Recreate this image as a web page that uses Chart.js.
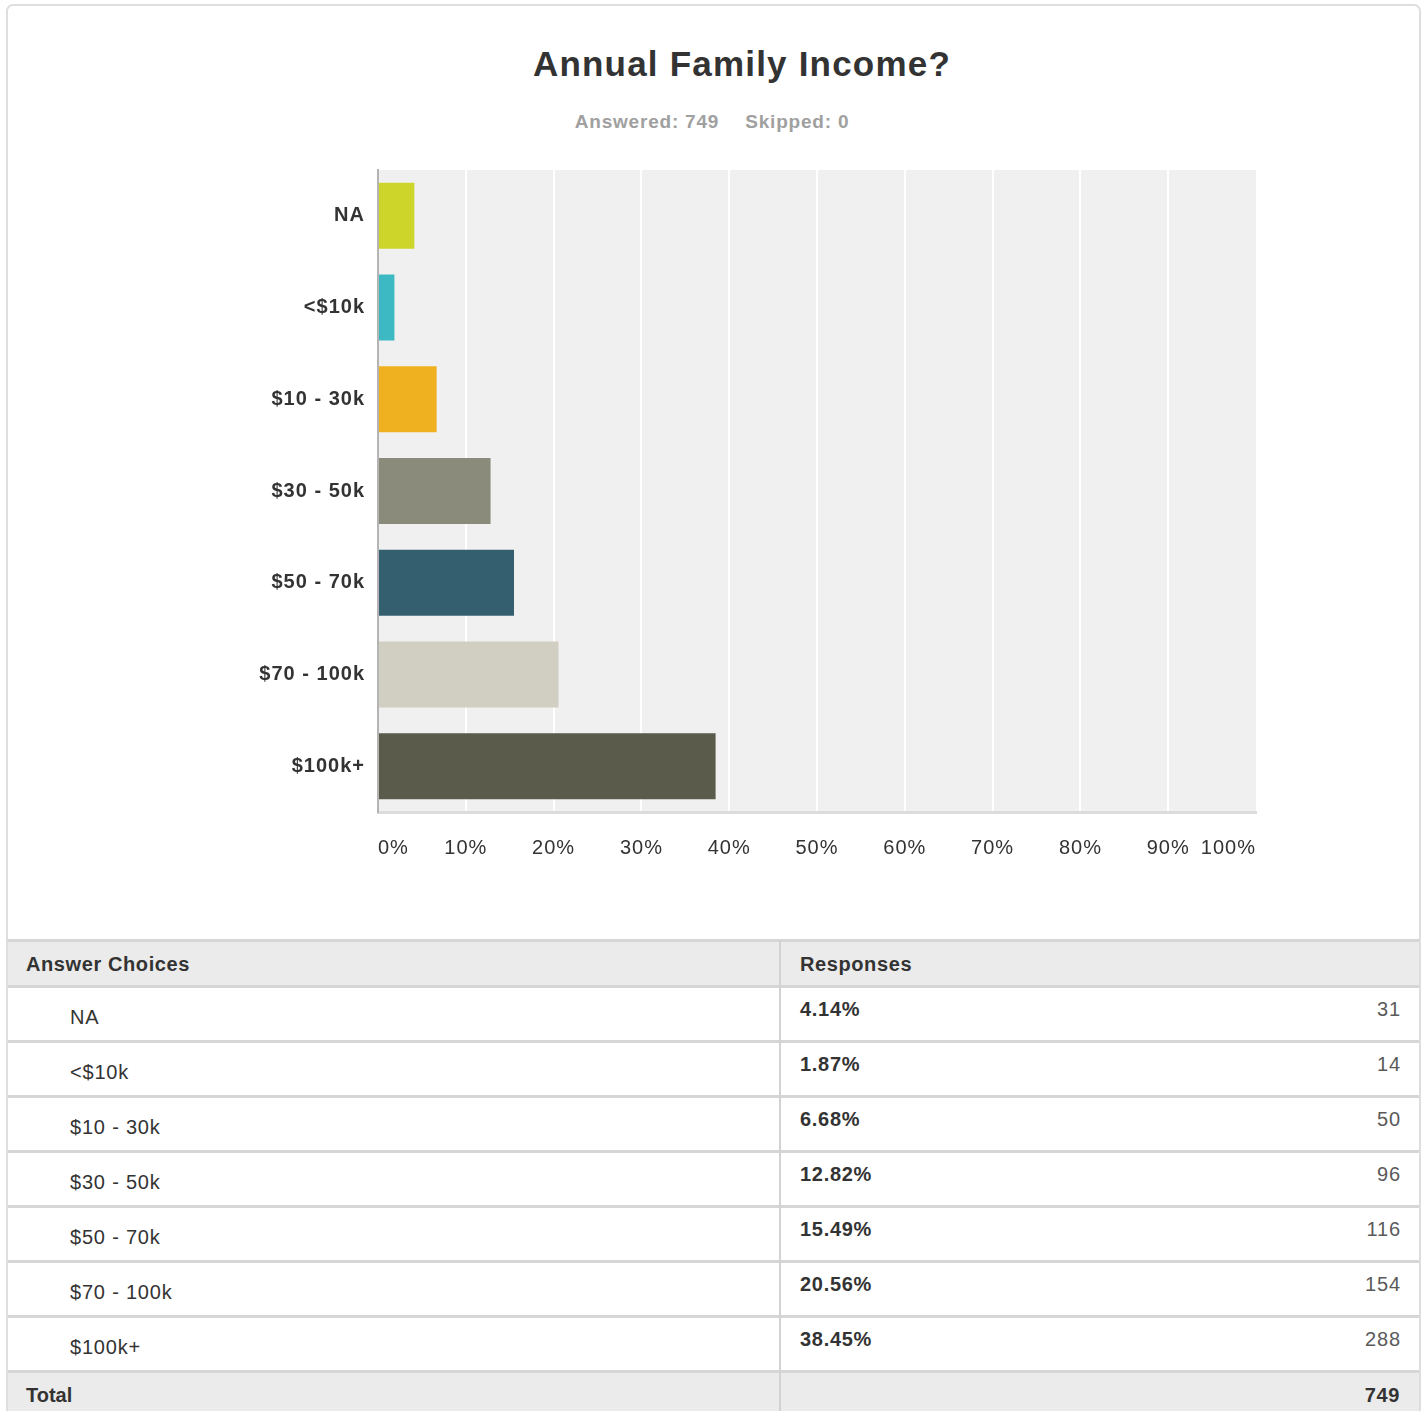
<!DOCTYPE html>
<html>
<head>
<meta charset="utf-8">
<script src="https://cdn.jsdelivr.net/npm/chart.js@4/dist/chart.umd.min.js"></script>
<style>
  html, body { margin: 0; padding: 0; background: #fff; }
  body { width: 1422px; height: 1411px; position: relative; overflow: hidden;
         font-family: "Liberation Sans", Arial, Helvetica, sans-serif; color: #333; }
  #frame { position: absolute; left: 6px; top: 4px; width: 1415px; height: 1440px;
           border: 2px solid #dedede; border-radius: 7px; box-sizing: border-box; }
  #title { position: absolute; left: 0; width: 1484px; top: 44px; text-align: center;
           font-size: 35px; font-weight: bold; color: #333; letter-spacing: 1.2px; }
  #sub { position: absolute; left: 0; width: 1424px; top: 111px; text-align: center;
         font-size: 19px; font-weight: bold; color: #a0a0a0; letter-spacing: 0.8px; }
  #sub .gap { display: inline-block; width: 26px; }
  #chartWrap { position: absolute; left: 0; top: 145px; width: 1422px; height: 755px; }
  .abs { position: absolute; }
  .hline { position: absolute; left: 6px; width: 1414px; height: 3px; background: #d6d6d6; }
  .txt { position: absolute; white-space: nowrap; line-height: 1; }
</style>
</head>
<body>
<div id="frame"></div>
<div id="title">Annual Family Income?</div>
<div id="sub">Answered: 749<span class="gap"></span>Skipped: 0</div>
<div id="chartWrap"><canvas id="c" width="1422" height="755"></canvas></div>
<div id="table"></div>
<script>
const categories = ["NA", "<$10k", "$10 - 30k", "$30 - 50k", "$50 - 70k", "$70 - 100k", "$100k+"];
const percents = [4.14, 1.87, 6.68, 12.82, 15.49, 20.56, 38.45];
const counts = [31, 14, 50, 96, 116, 154, 288];
const barColors = ["#cdd52a", "#3db9c3", "#f0b120", "#8a8b7a", "#345f6e", "#d0cfc2", "#5a5b4b"];
const totalCount = 749;
const xTicks = [0, 10, 20, 30, 40, 50, 60, 70, 80, 90, 100];

const FONT = '"Liberation Sans", Arial, Helvetica, sans-serif';

const bgPlugin = {
  id: 'plotBg',
  beforeDraw(chart) {
    const a = chart.chartArea, ctx = chart.ctx;
    ctx.letterSpacing = '1px';
    ctx.save();
    ctx.fillStyle = '#f0f0f0';
    ctx.fillRect(a.left, a.top, a.right - a.left, a.bottom - a.top);
    ctx.restore();
  }
};

new Chart(document.getElementById('c'), {
  type: 'bar',
  data: {
    labels: categories,
    datasets: [{
      data: percents,
      backgroundColor: barColors,
      borderWidth: 0,
      categoryPercentage: 0.72,
      barPercentage: 1.0
    }]
  },
  options: {
    indexAxis: 'y',
    responsive: false,
    devicePixelRatio: 1,
    animation: false,
    layout: { padding: { top: 14, right: 166, left: 0, bottom: 0 } },
    plugins: { legend: { display: false }, tooltip: { enabled: false }, title: { display: false } },
    scales: {
      x: {
        type: 'linear',
        position: 'bottom',
        min: 0, max: 100,
        afterBuildTicks(scale) { scale.ticks = xTicks.map(v => ({ value: v })); },
        afterFit(scale) { scale.height = 88; },
        grid: {
          color: (ctx) => (ctx.index === 0 || ctx.index === xTicks.length - 1) ? 'rgba(0,0,0,0)' : '#ffffff',
          lineWidth: 2,
          drawTicks: false
        },
        border: { display: true, color: '#dcdcdc', width: 3 },
        ticks: {
          callback: (v) => v + '%',
          font: { family: FONT, size: 20 },
          color: '#333',
          padding: 24,
          align: 'inner',
          maxRotation: 0,
          autoSkip: false
        }
      },
      y: {
        type: 'category',
        afterFit(scale) { scale.width = 378; },
        grid: { display: false, drawTicks: false },
        border: { display: true, color: '#b4b4b4', width: 2 },
        ticks: {
          font: { family: FONT, size: 20, weight: 'bold' },
          color: '#333',
          padding: 13
        }
      }
    }
  },
  plugins: [bgPlugin]
});

// Table
const t = document.getElementById('table');
function add(html) { t.insertAdjacentHTML('beforeend', html); }
const headTop = 940, headH = 46, rowH = 55;
const firstRow = headTop + headH;
const totalTop = firstRow + rowH * categories.length;
add(`<div class="abs" style="left:6px;top:${headTop}px;width:1414px;height:${headH}px;background:#ebebeb"></div>`);
add(`<div class="abs" style="left:6px;top:${totalTop}px;width:1414px;height:${1411 - totalTop}px;background:#ebebeb"></div>`);
add(`<div class="hline" style="top:${headTop - 1}px"></div>`);
for (let i = 0; i <= categories.length; i++) {
  add(`<div class="hline" style="top:${firstRow + rowH * i - 1}px"></div>`);
}
add(`<div class="abs" style="left:779px;top:${headTop}px;width:2px;height:${1411 - headTop}px;background:#d2d2d2"></div>`);
add(`<div class="abs" style="left:1419px;top:${headTop}px;width:2px;height:${1411 - headTop}px;background:#dedede"></div>`);
add(`<div class="abs" style="left:6px;top:${headTop}px;width:2px;height:${1411 - headTop}px;background:#dedede"></div>`);
add(`<div class="txt" style="left:26px;top:${headTop + 14}px;font-size:20px;font-weight:bold;color:#333;letter-spacing:0.6px">Answer Choices</div>`);
add(`<div class="txt" style="left:800px;top:${headTop + 14}px;font-size:20px;font-weight:bold;color:#333;letter-spacing:0.6px">Responses</div>`);
categories.forEach((c, i) => {
  const top = firstRow + rowH * i;
  const esc = c.replace(/</g, '&lt;');
  add(`<div class="txt" style="left:70px;top:${top + 21}px;font-size:20px;color:#333;letter-spacing:0.8px">${esc}</div>`);
  add(`<div class="txt" style="left:800px;top:${top + 13}px;font-size:20px;font-weight:bold;color:#333;letter-spacing:0.7px">${percents[i].toFixed(2)}%</div>`);
  add(`<div class="txt" style="right:${1422 - 1401}px;top:${top + 13}px;font-size:20px;color:#5a5a5a;letter-spacing:0.9px;text-align:right">${counts[i]}</div>`);
});
add(`<div class="txt" style="left:26px;top:${totalTop + 14}px;font-size:20px;font-weight:bold;color:#333">Total</div>`);
add(`<div class="txt" style="right:${1422 - 1400}px;top:${totalTop + 14}px;font-size:20px;font-weight:bold;color:#333;letter-spacing:0.6px">${totalCount}</div>`);
</script>
</body>
</html>
